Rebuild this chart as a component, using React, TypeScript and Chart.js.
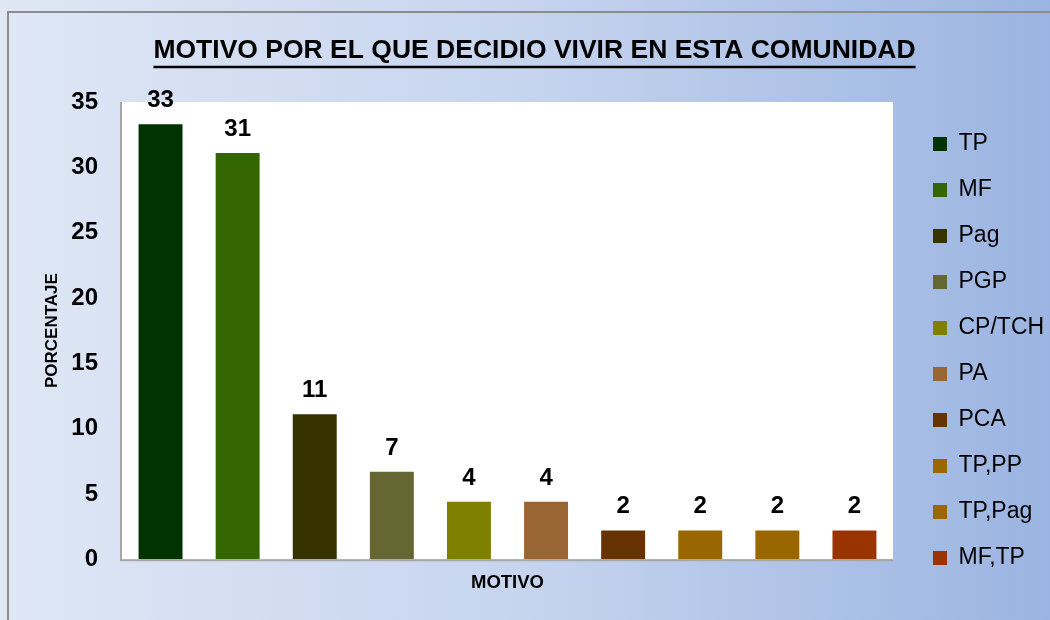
import React, { useEffect, useRef } from "react";
import { Chart, registerables } from "chart.js";

Chart.register(...registerables);

const TITLE = "MOTIVO POR EL QUE DECIDIO VIVIR EN ESTA COMUNIDAD";
const Y_TITLE = "PORCENTAJE";
const X_TITLE = "MOTIVO";
const categories = ["TP", "MF", "Pag", "PGP", "CP/TCH", "PA", "PCA", "TP,PP", "TP,Pag", "MF,TP"];
const values = [33.3, 31.1, 11.1, 6.7, 4.4, 4.4, 2.2, 2.2, 2.2, 2.2];
const colors = ["#003300", "#336600", "#363300", "#666633", "#808000", "#996633", "#663300", "#996600", "#996600", "#993300"];
const yMin = 0;
const yMax = 35;
const yStep = 5;

const FONT = "'Liberation Sans Narrow', 'Arial Narrow', 'Liberation Sans', Arial, sans-serif";
const TITLE_SIZE = 26.5;
const TITLE_PAD_TOP = 35;

const plotBackground = {
  id: "plotBackground",
  beforeDraw(chart: any) {
    const { ctx, chartArea } = chart;
    if (!chartArea) return;
    const { left, top, right, bottom } = chartArea;
    ctx.save();
    ctx.fillStyle = "#ffffff";
    ctx.fillRect(left, top, right - left, bottom - top);
    ctx.strokeStyle = "#a6a6a6";
    ctx.lineWidth = 2;
    ctx.beginPath();
    ctx.moveTo(left - 1, top);
    ctx.lineTo(left - 1, bottom + 1);
    ctx.lineTo(right, bottom + 1);
    ctx.stroke();
    ctx.restore();
  },
};

const valueLabels = {
  id: "valueLabels",
  afterDatasetsDraw(chart: any) {
    const { ctx } = chart;
    ctx.save();
    ctx.font = `bold 24px ${FONT}`;
    ctx.fillStyle = "#000000";
    ctx.textAlign = "center";
    ctx.textBaseline = "alphabetic";
    chart.data.datasets.forEach((ds: any, i: number) => {
      const meta = chart.getDatasetMeta(i);
      meta.data.forEach((el: any, j: number) => {
        const v = ds.data[j];
        if (v === null || v === undefined) return;
        ctx.fillText(String(Math.round(v)), el.x, el.y - 17);
      });
    });
    ctx.restore();
  },
};

const titleUnderline = {
  id: "titleUnderline",
  afterDraw(chart: any) {
    const tb = chart.titleBlock;
    if (!tb) return;
    const { ctx } = chart;
    ctx.save();
    ctx.font = `bold ${TITLE_SIZE}px ${FONT}`;
    const w = ctx.measureText(TITLE).width;
    const cx = (tb.left + tb.right) / 2;
    const cy = tb.top + TITLE_PAD_TOP + (TITLE_SIZE * 1.2) / 2 + 16;
    ctx.strokeStyle = "#000000";
    ctx.lineWidth = 2.5;
    ctx.beginPath();
    ctx.moveTo(cx - w / 2, cy);
    ctx.lineTo(cx + w / 2, cy);
    ctx.stroke();
    ctx.restore();
  },
};

export default function App() {
  const ref = useRef<HTMLCanvasElement | null>(null);

  useEffect(() => {
    if (!ref.current) return;
    const datasets = categories.map((cat, i) => ({
      label: cat,
      data: values.map((v, j) => (j === i ? v : null)),
      backgroundColor: colors[i],
      borderColor: colors[i],
      borderWidth: 0,
      grouped: false,
      categoryPercentage: 1,
      barPercentage: 0.57,
    }));
    const chart = new Chart(ref.current, {
      type: "bar",
      data: { labels: categories, datasets },
      options: {
        responsive: false,
        animation: false,
        maintainAspectRatio: false,
        color: "#000000",
        layout: { padding: { left: 22, right: 3, top: 0, bottom: 12.8 } },
        plugins: {
          title: {
            display: true,
            text: TITLE,
            color: "#000000",
            font: { family: FONT, size: TITLE_SIZE, weight: "bold", lineHeight: 1.2 },
            padding: { top: TITLE_PAD_TOP, bottom: 102 - TITLE_PAD_TOP - TITLE_SIZE * 1.2 },
          },
          legend: {
            display: true,
            position: "right",
            align: "start",
            maxWidth: 137,
            title: {
              display: true,
              text: " ",
              font: { family: FONT, size: 10, lineHeight: 1.2 },
              padding: { top: 97.5, bottom: 0 },
            },
            labels: {
              color: "#000000",
              font: { family: FONT, size: 23 },
              boxWidth: 14,
              boxHeight: 14,
              padding: 23,
            },
          },
          tooltip: { enabled: false },
        },
        scales: {
          x: {
            type: "category",
            grid: { display: false, drawTicks: false, tickLength: 0 },
            border: { display: false },
            ticks: { display: false },
            title: {
              display: true,
              text: X_TITLE,
              color: "#000000",
              font: { family: FONT, size: 18.5, weight: "bold", lineHeight: 1.2 },
              padding: { top: 12.9, bottom: 12.9 },
            },
          },
          y: {
            type: "linear",
            min: yMin,
            max: yMax,
            grid: { display: false, drawTicks: false, tickLength: 0 },
            border: { display: false },
            ticks: {
              stepSize: yStep,
              color: "#000000",
              padding: 24,
              font: { family: FONT, size: 24, weight: "bold" },
            },
            title: {
              display: true,
              text: Y_TITLE,
              color: "#000000",
              font: { family: FONT, size: 17, weight: "bold", lineHeight: 1.2 },
              padding: { top: 19.8, bottom: 0 },
            },
            afterFit(scale: any) {
              scale.width = 100;
            },
          },
          gap: {
            type: "linear",
            position: "right",
            display: true,
            grid: { display: false, drawTicks: false, tickLength: 0 },
            border: { display: false },
            ticks: { display: false },
            afterFit(scale: any) {
              scale.width = 17;
            },
          },
        },
      } as any,
      plugins: [plotBackground, valueLabels, titleUnderline],
    });
    return () => chart.destroy();
  }, []);

  return (
    <div
      style={{
        position: "fixed",
        left: 0,
        top: 0,
        width: 1050,
        height: 620,
        background: "linear-gradient(to right, #dfe7f5 0%, #c6d4ee 50%, #9bb4e1 100%)",
        overflow: "hidden",
      }}
    >
      <div
        style={{
          position: "absolute",
          left: 7,
          top: 11,
          right: -10,
          bottom: -10,
          borderTop: "2px solid #8c8c8c",
          borderLeft: "2px solid #8c8c8c",
        }}
      />
      <canvas ref={ref} width={1050} height={620} style={{ position: "absolute", left: 0, top: 0, width: 1050, height: 620 }} />
    </div>
  );
}
